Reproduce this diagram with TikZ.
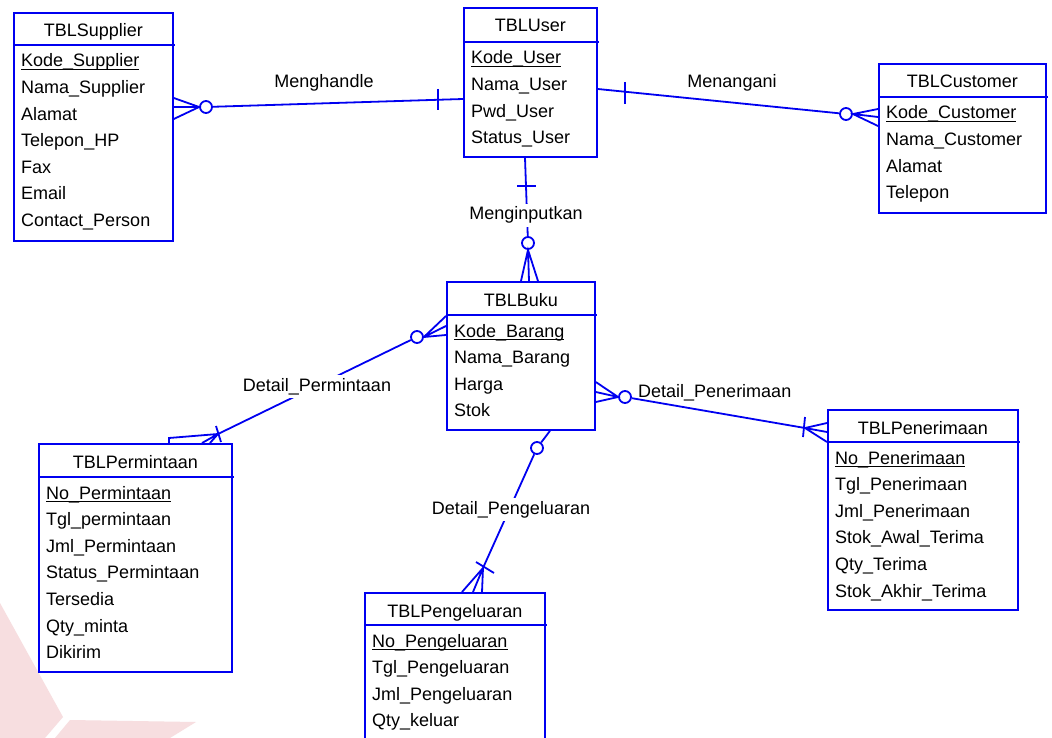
\documentclass[tikz,border=0pt]{standalone}
\usepackage{fontspec}
\setmainfont{Liberation Sans}
\usetikzlibrary{calc}
\definecolor{erblue}{RGB}{0,0,240}
\definecolor{wmpink}{RGB}{247,222,224}
\newcommand\erfont{\fontsize{18}{21}\selectfont}
\tikzset{
  tbl/.style={draw=erblue, line width=1.8pt, rectangle, inner sep=0pt},
  rel/.style={draw=erblue, line width=1.8pt},
  oc/.style={circle, draw=erblue, line width=1.8pt, fill=white, minimum size=12pt, inner sep=0pt},
  txt/.style={font=\erfont, inner sep=0pt, text=black},
  rlbl/.style={font=\erfont, inner sep=0pt, text=black},
  cut/.style={font=\erfont, fill=white, inner xsep=2pt, inner ysep=3pt, text=black},
}
% entity table: name, x, y (north west), width, height, header height, title, attributes
\newcommand\erdtable[8]{%
  \node[tbl, anchor=north west, minimum width=#4pt, minimum height=#5pt] (#1) at (#2,#3) {};
  \draw[rel] ($(#1.north west)+(0,#6)$) -- ($(#1.north east)+(1,#6)$);
  \node[txt, anchor=base] (#1-t) at ($(#1.north)+(0,25)$) {#7};
  \foreach \r [count=\i] in {#8} {
    \node[txt, anchor=base west] (#1-\i) at ($(#1.north west)+(8,{#6+22+(\i-1)*26.6})$) {\r};
  }
  \draw[black, line width=1pt] ($(#1-1.base west)+(0,2.3)$) -- ($(#1-1.base east)+(0,2.3)$);
}
\begin{document}
\begin{tikzpicture}[x=1pt, y=-1pt]
\clip (0,0) rectangle (1052,738);
\fill[white] (0,0) rectangle (1052,738);
% faint logo in the corner
\fill[wmpink] (0,603) -- (63,717) -- (45,738) -- (0,738) -- cycle;
\fill[wmpink] (70,720) -- (196,722) -- (170,738) -- (55,738) -- cycle;

% entities
\erdtable{sup}{13}{12}{159}{228}{33}{TBLSupplier}{Kode\_Supplier,Nama\_Supplier,Alamat,Telepon\_HP,Fax,Email,Contact\_Person}
\erdtable{usr}{463}{7}{133}{149}{35}{TBLUser}{Kode\_User,Nama\_User,Pwd\_User,Status\_User}
\erdtable{cus}{878}{63}{167}{149}{34}{TBLCustomer}{Kode\_Customer,Nama\_Customer,Alamat,Telepon}
\erdtable{buk}{446}{281}{148}{148}{34}{TBLBuku}{Kode\_Barang,Nama\_Barang,Harga,Stok}
\erdtable{per}{38}{443}{193}{228}{34}{TBLPermintaan}{No\_Permintaan,Tgl\_permintaan,Jml\_Permintaan,Status\_Permintaan,Tersedia,Qty\_minta,Dikirim}
\erdtable{pgl}{364}{592}{180}{160}{33}{TBLPengeluaran}{No\_Pengeluaran,Tgl\_Pengeluaran,Jml\_Pengeluaran,Qty\_keluar}
\erdtable{pnr}{827}{409}{190}{200}{33}{TBLPenerimaan}{No\_Penerimaan,Tgl\_Penerimaan,Jml\_Penerimaan,Stok\_Awal\_Terima,Qty\_Terima,Stok\_Akhir\_Terima}

% Menghandle: supplier (zero or many) -- user (one)
\node[oc] (o1) at (206,107) {};
\draw[rel] (o1) -- ($(usr.north west)+(0,92)$);
\draw[rel] ($(sup.north east)+(0,86)$) -- (o1.west) -- ($(sup.north east)+(0,107)$)
           (o1.west) -- ($(sup.north east)+(0,95)$);
\draw[rel] ($(usr.north west)+(-25,82)$) -- ++(0,21);
\node[rlbl, anchor=base] (l1) at (324,88) {Menghandle};

% Menangani: user (one) -- customer (zero or many)
\node[oc] (o2) at (846,114) {};
\draw[rel] ($(usr.north east)+(0,82)$) -- (o2);
\draw[rel] ($(cus.north west)+(0,46)$) -- (o2.east) -- ($(cus.north west)+(0,63)$)
           (o2.east) -- ($(cus.north west)+(0,54)$);
\draw[rel] ($(usr.north east)+(27,75)$) -- ++(0,22);
\node[rlbl, anchor=base] (l2) at (732,88) {Menangani};

% Menginputkan: user (one) -- buku (zero or many)
\node[oc] (o3) at (528,243) {};
\draw[rel] ($(usr.south west)+(62,0)$) -- (o3);
\draw[rel] ($(usr.south west)+(54,28)$) -- ++(19,0);
\draw[rel] ($(buk.north west)+(75,0)$) -- (o3.south) -- ($(buk.north west)+(92,0)$)
           (o3.south) -- ($(buk.north west)+(83,0)$);
\node[cut, anchor=base] (l3) at (526,220) {Menginputkan};

% Detail_Permintaan: buku (zero or many) -- permintaan (one or many)
\node[oc] (o4) at (417,337) {};
\coordinate (j4) at (218,434);
\draw[rel] (o4) -- (j4);
\draw[rel] ($(buk.north west)+(0,35)$) -- (o4.east) -- ($(buk.north west)+(0,54)$)
           (o4.east) -- ($(buk.north west)+(0,45)$);
\draw[rel] (j4) -- ($(per.north west)+(131,-5)$) -- ($(per.north west)+(131,0)$)
           (j4) -- ($(per.north west)+(164,0)$)
           (j4) -- ($(per.north west)+(172,0)$);
\draw[rel] ($(per.north west)+(178,-17)$) -- ($(per.north west)+(183,-1)$);
\node[cut, anchor=base] (l4) at (317,391) {Detail\_Permintaan};

% Detail_Pengeluaran: buku (zero or one) -- pengeluaran (one or many)
\node[oc] (o5) at (537,448) {};
\coordinate (j5) at (483,568);
\draw[rel] ($(buk.south west)+(104,0)$) -- (o5);
\draw[rel] (o5) -- (j5);
\draw[rel] (j5) -- ($(pgl.north west)+(98,0)$)
           (j5) -- ($(pgl.north west)+(109,0)$)
           (j5) -- ($(pgl.north west)+(118,0)$);
\draw[rel] ($(j5)+(-7,-6)$) -- ($(j5)+(11,5)$);
\node[cut, anchor=base] (l5) at (511,514) {Detail\_Pengeluaran};

% Detail_Penerimaan: buku (zero or many) -- penerimaan (one or many)
\node[oc] (o6) at (625,397) {};
\coordinate (j6) at (805,428);
\draw[rel] ($(buk.north east)+(0,101)$) -- (o6.west) -- ($(buk.north east)+(0,121)$)
           (o6.west) -- ($(buk.north east)+(0,111)$);
\draw[rel] (o6) -- (j6);
\draw[rel] (j6) -- ($(pnr.north west)+(0,14)$)
           (j6) -- ($(pnr.north west)+(0,23)$)
           (j6) -- ($(pnr.north west)+(0,33)$);
\draw[rel] ($(j6)+(0,-11)$) -- ($(j6)+(-2,9)$);
\node[rlbl, anchor=base west] (l6) at (638,397) {Detail\_Penerimaan};
\end{tikzpicture}
\end{document}
